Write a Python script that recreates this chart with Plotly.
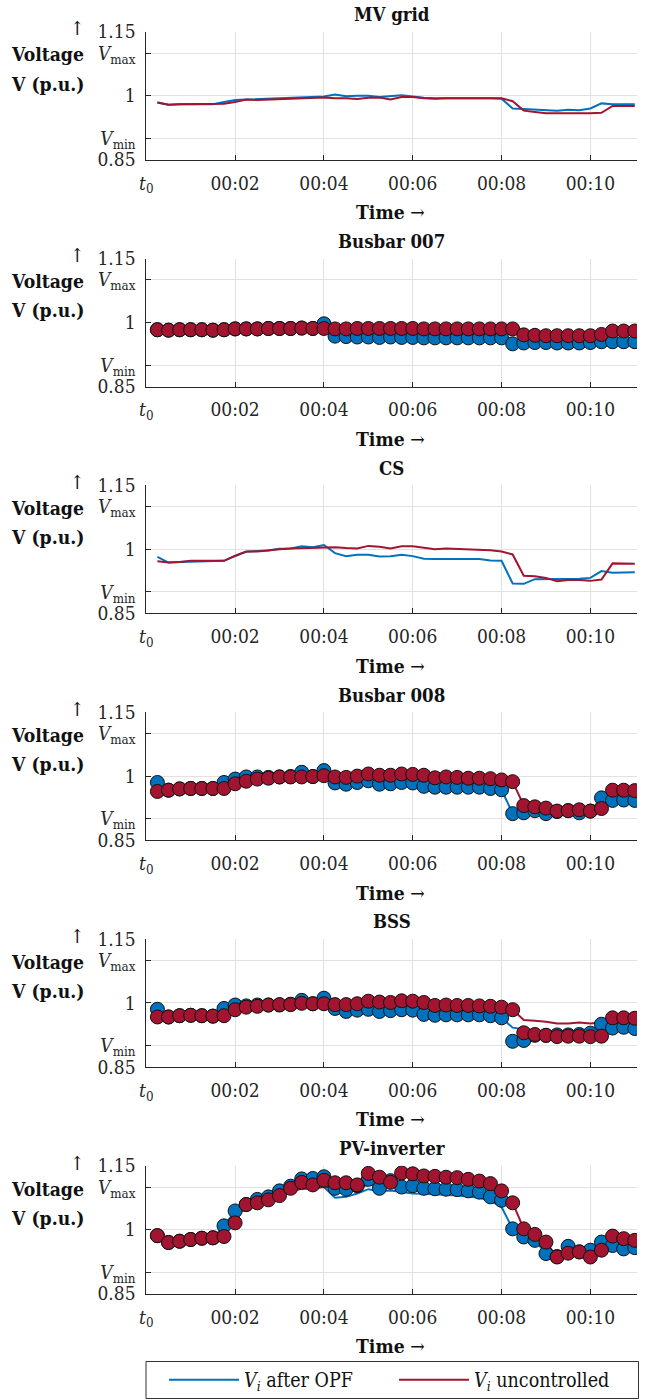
import plotly.graph_objects as go

# ---------------- data ----------------
# sample times: every 15 s from t0 (in minutes)
times_min = [0.25 * (k + 1) for k in range(44)]

x_tick_vals = [0, 2, 4, 6, 8, 10]
x_tick_text = ["<i>t</i><sub>0</sub>", "00:02", "00:04", "00:06", "00:08", "00:10"]
y_tick_vals = [0.85, 0.9, 1.0, 1.1, 1.15]
y_tick_text = ["0.85", "<i>V</i><sub>min</sub>", "1", "<i>V</i><sub>max</sub>", "1.15"]

panel_titles = ["MV grid", "Busbar 007", "CS", "Busbar 008", "BSS", "PV-inverter"]

mv_opf = [0.984, 0.979, 0.980, 0.980, 0.980, 0.980, 0.985, 0.990, 0.991, 0.992,
          0.993, 0.993, 0.994, 0.996, 0.996, 0.998, 1.003, 0.999, 1.000, 1.000,
          0.997, 0.999, 1.001, 0.998, 0.995, 0.994, 0.994, 0.995, 0.995, 0.994,
          0.994, 0.993, 0.970, 0.969, 0.968, 0.967, 0.965, 0.967, 0.966, 0.970,
          0.982, 0.980, 0.980, 0.980]
mv_unc = [0.984, 0.979, 0.980, 0.980, 0.980, 0.980, 0.981, 0.985, 0.991, 0.990,
          0.991, 0.992, 0.993, 0.994, 0.995, 0.996, 0.994, 0.994, 0.992, 0.995,
          0.996, 0.991, 0.997, 0.997, 0.994, 0.993, 0.994, 0.994, 0.994, 0.994,
          0.994, 0.994, 0.987, 0.965, 0.962, 0.959, 0.959, 0.959, 0.958, 0.959,
          0.960, 0.976, 0.976, 0.976]

b7_opf = [0.983, 0.982, 0.983, 0.983, 0.983, 0.982, 0.983, 0.985, 0.985, 0.985,
          0.986, 0.986, 0.986, 0.987, 0.986, 0.997, 0.968, 0.967, 0.966, 0.966,
          0.965, 0.966, 0.965, 0.965, 0.964, 0.964, 0.964, 0.964, 0.964, 0.964,
          0.964, 0.964, 0.950, 0.952, 0.953, 0.953, 0.952, 0.952, 0.952, 0.953,
          0.955, 0.955, 0.955, 0.955]
b7_unc = [0.983, 0.982, 0.983, 0.983, 0.983, 0.982, 0.983, 0.985, 0.985, 0.985,
          0.986, 0.986, 0.986, 0.987, 0.986, 0.986, 0.985, 0.985, 0.986, 0.986,
          0.986, 0.986, 0.986, 0.986, 0.985, 0.985, 0.985, 0.985, 0.985, 0.985,
          0.985, 0.985, 0.985, 0.971, 0.970, 0.969, 0.969, 0.969, 0.969, 0.969,
          0.972, 0.980, 0.980, 0.980]

cs_opf = [0.982, 0.969, 0.970, 0.971, 0.972, 0.973, 0.973, 0.984, 0.994, 0.996,
          0.997, 1.001, 1.002, 1.007, 1.005, 1.010, 0.991, 0.984, 0.987, 0.987,
          0.983, 0.984, 0.987, 0.984, 0.978, 0.977, 0.977, 0.977, 0.977, 0.977,
          0.974, 0.973, 0.920, 0.919, 0.930, 0.930, 0.930, 0.931, 0.931, 0.933,
          0.949, 0.945, 0.945, 0.946]
cs_unc = [0.972, 0.969, 0.970, 0.973, 0.973, 0.973, 0.973, 0.985, 0.995, 0.995,
          0.998, 1.000, 1.002, 1.003, 1.003, 1.004, 1.005, 1.003, 1.002, 1.008,
          1.006, 1.002, 1.007, 1.007, 1.004, 1.000, 1.002, 1.001, 0.999, 0.999,
          0.998, 0.995, 0.988, 0.938, 0.937, 0.933, 0.925, 0.928, 0.928, 0.926,
          0.929, 0.967, 0.967, 0.966]

b8_opf = [0.985, 0.967, 0.970, 0.971, 0.971, 0.971, 0.985, 0.993, 0.998, 0.998,
          0.997, 0.998, 0.999, 1.009, 0.999, 1.013, 0.984, 0.981, 0.985, 0.989,
          0.981, 0.982, 0.985, 0.984, 0.976, 0.974, 0.974, 0.974, 0.974, 0.974,
          0.971, 0.968, 0.912, 0.914, 0.919, 0.912, 0.917, 0.919, 0.914, 0.918,
          0.949, 0.943, 0.944, 0.943]
b8_unc = [0.964, 0.967, 0.970, 0.971, 0.971, 0.971, 0.971, 0.982, 0.988, 0.993,
          0.995, 0.998, 0.998, 0.998, 0.999, 1.001, 0.998, 0.997, 1.000, 1.005,
          1.002, 1.002, 1.005, 1.004, 1.002, 0.996, 0.998, 0.997, 0.995, 0.995,
          0.994, 0.991, 0.987, 0.931, 0.928, 0.925, 0.918, 0.919, 0.921, 0.918,
          0.924, 0.967, 0.967, 0.966]

bss_opf_pts = [0.985, 0.967, 0.970, 0.971, 0.970, 0.969, 0.987, 0.995, 0.993, 0.995,
               0.995, 0.995, 0.997, 1.006, 0.998, 1.011, 0.987, 0.980, 0.983, 0.985,
               0.980, 0.982, 0.984, 0.983, 0.973, 0.971, 0.972, 0.972, 0.972, 0.972,
               0.970, 0.965, 0.910, 0.912, 0.924, 0.924, 0.925, 0.925, 0.926, 0.929,
               0.950, 0.941, 0.943, 0.940]
bss_unc_pts = [0.967, 0.967, 0.970, 0.971, 0.970, 0.969, 0.970, 0.984, 0.990, 0.992,
               0.995, 0.996, 0.996, 0.999, 0.998, 0.998, 0.996, 0.996, 0.998, 1.004,
               1.002, 1.001, 1.005, 1.004, 1.001, 0.994, 0.995, 0.994, 0.994, 0.993,
               0.992, 0.990, 0.984, 0.930, 0.926, 0.924, 0.921, 0.922, 0.922, 0.921,
               0.922, 0.965, 0.965, 0.964]
bss_opf_line = [0.985, 0.967, 0.970, 0.971, 0.970, 0.969, 0.987, 0.995, 0.993, 0.995,
                0.995, 0.995, 0.997, 1.006, 0.998, 1.011, 0.987, 0.980, 0.983, 0.985,
                0.980, 0.982, 0.984, 0.983, 0.973, 0.971, 0.972, 0.972, 0.972, 0.972,
                0.970, 0.965, 0.942, 0.938, 0.935, 0.934, 0.934, 0.934, 0.935, 0.936,
                0.950, 0.941, 0.943, 0.940]
bss_unc_line = [0.967, 0.967, 0.970, 0.971, 0.970, 0.969, 0.970, 0.984, 0.990, 0.992,
                0.995, 0.996, 0.996, 0.999, 0.998, 0.998, 0.996, 0.996, 0.998, 1.004,
                1.002, 1.001, 1.005, 1.004, 1.001, 0.994, 0.995, 0.994, 0.994, 0.993,
                0.992, 0.990, 0.984, 0.960, 0.958, 0.956, 0.952, 0.952, 0.954, 0.952,
                0.954, 0.965, 0.965, 0.964]

pv_opf_pts = [0.986, 0.970, 0.973, 0.977, 0.980, 0.981, 1.009, 1.044, 1.059, 1.071,
              1.077, 1.091, 1.102, 1.119, 1.120, 1.124, 1.097, 1.095, 1.103, 1.118,
              1.097, 1.115, 1.100, 1.103, 1.097, 1.096, 1.095, 1.094, 1.091, 1.088,
              1.077, 1.069, 1.002, 0.983, 0.975, 0.944, 0.937, 0.961, 0.948, 0.952,
              0.971, 0.963, 0.955, 0.958]
pv_unc_pts = [0.986, 0.970, 0.973, 0.977, 0.980, 0.981, 0.984, 1.016, 1.059, 1.063,
              1.070, 1.080, 1.097, 1.111, 1.105, 1.116, 1.110, 1.110, 1.105, 1.132,
              1.123, 1.111, 1.133, 1.131, 1.126, 1.125, 1.123, 1.122, 1.118, 1.114,
              1.108, 1.091, 1.063, 1.002, 0.989, 0.971, 0.936, 0.945, 0.948, 0.936,
              0.952, 0.985, 0.979, 0.975]
pv_opf_line = [0.986, 0.970, 0.973, 0.977, 0.980, 0.981, 1.009, 1.044, 1.059, 1.071,
               1.077, 1.091, 1.100, 1.105, 1.105, 1.100, 1.075, 1.077, 1.085, 1.095,
               1.090, 1.092, 1.088, 1.085, 1.084, 1.083, 1.082, 1.080, 1.078, 1.075,
               1.068, 1.053, 1.002, 0.983, 0.975, 0.944, 0.937, 0.961, 0.948, 0.952,
               0.971, 0.963, 0.955, 0.958]
pv_unc_line = [0.986, 0.970, 0.973, 0.977, 0.980, 0.981, 0.984, 1.025, 1.055, 1.062,
               1.068, 1.078, 1.090, 1.096, 1.096, 1.100, 1.098, 1.098, 1.100, 1.105,
               1.106, 1.106, 1.104, 1.103, 1.102, 1.100, 1.098, 1.096, 1.094, 1.092,
               1.086, 1.075, 1.063, 1.002, 0.989, 0.971, 0.936, 0.945, 0.948, 0.936,
               0.952, 0.985, 0.979, 0.975]

# (line OPF, line uncontrolled, markers OPF, markers uncontrolled)
panel_data = [
    (mv_opf, mv_unc, None, None),
    (b7_opf, b7_unc, b7_opf, b7_unc),
    (cs_opf, cs_unc, None, None),
    (b8_opf, b8_unc, b8_opf, b8_unc),
    (bss_opf_line, bss_unc_line, bss_opf_pts, bss_unc_pts),
    (pv_opf_line, pv_unc_line, pv_opf_pts, pv_unc_pts),
]

# ---------------- styling ----------------
W, H = 651, 1400
BLUE = "#0072BD"
RED = "#A2142F"
AX = "#262626"
TXT = "#111111"
GRID = "#e1e1e1"
FONT = "DejaVu Serif Condensed, DejaVu Serif, serif"
TICK_SIZE = 19
TITLE_SIZE = 18.5
LABEL_SIZE = 19.2
X0, X1 = 146.3, 637.0
TOP0, STEP, PH = 31.7, 226.8, 128.0


def fx(p):
    return p / W


def fy(p):
    return 1 - p / H


fig = go.Figure()
annotations = []
layout_axes = {}

for k, (title, (lo, lu, mo, mu)) in enumerate(zip(panel_titles, panel_data)):
    xa = "x" if k == 0 else f"x{k + 1}"
    ya = "y" if k == 0 else f"y{k + 1}"
    top = TOP0 + STEP * k
    bot = top + PH

    fig.add_trace(go.Scatter(x=times_min, y=lo, mode="lines", xaxis=xa, yaxis=ya,
                             line=dict(color=BLUE, width=2),
                             name="<i>V<sub>i</sub></i> after OPF",
                             legendgroup="opf", showlegend=(k == 0)))
    fig.add_trace(go.Scatter(x=times_min, y=lu, mode="lines", xaxis=xa, yaxis=ya,
                             line=dict(color=RED, width=2),
                             name="<i>V<sub>i</sub></i> uncontrolled",
                             legendgroup="unc", showlegend=(k == 0)))
    if mo is not None:
        fig.add_trace(go.Scatter(x=times_min, y=mo, mode="markers", xaxis=xa, yaxis=ya,
                                 marker=dict(color=BLUE, size=14,
                                             line=dict(color=TXT, width=1)),
                                 legendgroup="opf", showlegend=False))
        fig.add_trace(go.Scatter(x=times_min, y=mu, mode="markers", xaxis=xa, yaxis=ya,
                                 marker=dict(color=RED, size=14,
                                             line=dict(color=TXT, width=1)),
                                 legendgroup="unc", showlegend=False))

    xkey = "xaxis" if k == 0 else f"xaxis{k + 1}"
    ykey = "yaxis" if k == 0 else f"yaxis{k + 1}"
    layout_axes[xkey] = dict(
        domain=[fx(X0), fx(X1)], anchor=ya, range=[0, 11.05],
        tickmode="array", tickvals=x_tick_vals, ticktext=x_tick_text,
        showgrid=True, gridcolor=GRID, gridwidth=1, zeroline=False,
        showline=True, linecolor=AX, linewidth=1,
        ticks="inside", ticklen=5, tickcolor=AX, tickwidth=1,
        tickfont=dict(family=FONT, size=TICK_SIZE, color=AX), ticklabelstandoff=6,
        automargin=False,
    )
    layout_axes[ykey] = dict(
        domain=[fy(bot), fy(top)], anchor=xa, range=[0.85, 1.15],
        tickmode="array", tickvals=y_tick_vals, ticktext=y_tick_text,
        showgrid=True, gridcolor=GRID, gridwidth=1, zeroline=False,
        showline=True, linecolor=AX, linewidth=1,
        ticks="inside", ticklen=5, tickcolor=AX, tickwidth=1,
        tickfont=dict(family=FONT, size=TICK_SIZE, color=AX), ticklabelstandoff=6,
        automargin=False,
    )

    # panel title
    annotations.append(dict(text=f"<b>{title}</b>", xref="paper", yref="paper",
                            x=fx((X0 + X1) / 2), y=fy(top - 17), xanchor="center",
                            yanchor="middle", showarrow=False,
                            font=dict(family=FONT, size=TITLE_SIZE, color=TXT)))
    # x-axis label
    annotations.append(dict(text="<b>Time</b> →", xref="paper", yref="paper",
                            x=fx(390), y=fy(bot + 53), xanchor="center",
                            yanchor="middle", showarrow=False,
                            font=dict(family=FONT, size=LABEL_SIZE, color=TXT)))
    # y-axis label (three lines)
    for txt, dy in (("↑", -2.7), ("<b>Voltage</b>", 23.3), ("<b>V (p.u.)</b>", 52.3)):
        annotations.append(dict(text=txt, xref="paper", yref="paper",
                                x=fx(86.5), y=fy(top + dy), xanchor="right",
                                yanchor="middle", showarrow=False,
                                font=dict(family=FONT, size=LABEL_SIZE, color=TXT)))

fig.update_layout(
    width=W, height=H, autosize=False,
    margin=dict(l=0, r=0, t=0, b=0, autoexpand=False),
    paper_bgcolor="white", plot_bgcolor="white",
    font=dict(family=FONT, size=TICK_SIZE, color=TXT),
    annotations=annotations,
    shapes=[dict(type="rect", xref="paper", yref="paper",
                 x0=fx(146), x1=fx(638.5), y0=fy(1398.5), y1=fy(1361.5),
                 line=dict(color="#333333", width=1), fillcolor="rgba(0,0,0,0)",
                 layer="above")],
    showlegend=True,
    legend=dict(orientation="h", x=fx(164), xanchor="left",
                y=fy(1380), yanchor="middle",
                borderwidth=0, bgcolor="rgba(0,0,0,0)",
                font=dict(family=FONT, size=19.5, color=TXT),
                itemwidth=70, entrywidth=145, tracegroupgap=0),
    **layout_axes,
)

fig.write_html("out.html",
               config={"displayModeBar": False},
               post_script="document.body.style.margin='0';"
                           "document.documentElement.style.margin='0';")
